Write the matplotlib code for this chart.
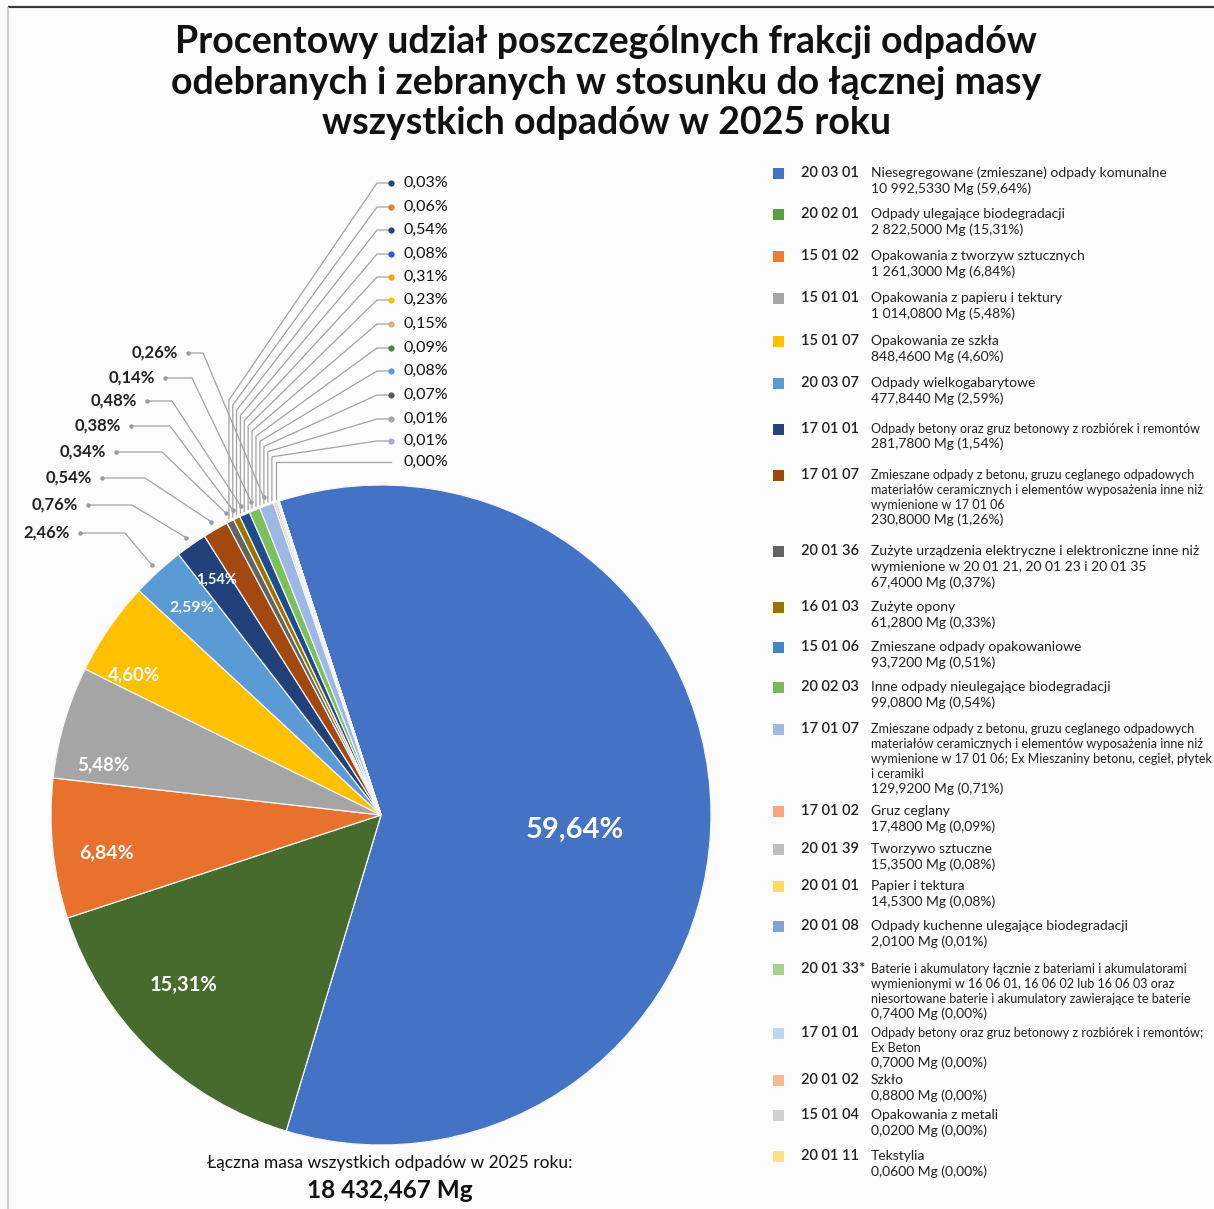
import numpy as np
import matplotlib
matplotlib.use('Agg')
import matplotlib.pyplot as plt
from matplotlib.patches import Rectangle

# ---------------- data ----------------
codes = ['20 03 01', '20 02 01', '15 01 02', '15 01 01', '15 01 07', '20 03 07',
         '17 01 01', '17 01 07', '20 01 36', '16 01 03', '15 01 06', '20 02 03',
         '17 01 07', '17 01 02', '20 01 39', '20 01 01', '20 01 08', '20 01 33*',
         '17 01 01', '20 01 02', '15 01 04', '20 01 11']
names = [
    'Niesegregowane (zmieszane) odpady komunalne',
    'Odpady ulegające biodegradacji',
    'Opakowania z tworzyw sztucznych',
    'Opakowania z papieru i tektury',
    'Opakowania ze szkła',
    'Odpady wielkogabarytowe',
    'Odpady betony oraz gruz betonowy z rozbiórek i remontów',
    'Zmieszane odpady z betonu, gruzu ceglanego odpadowych\nmateriałów ceramicznych i elementów wyposażenia inne niż\nwymienione w 17 01 06',
    'Zużyte urządzenia elektryczne i elektroniczne inne niż\nwymienione w 20 01 21, 20 01 23 i 20 01 35',
    'Zużyte opony',
    'Zmieszane odpady opakowaniowe',
    'Inne odpady nieulegające biodegradacji',
    'Zmieszane odpady z betonu, gruzu ceglanego odpadowych\nmateriałów ceramicznych i elementów wyposażenia inne niż\nwymienione w 17 01 06; Ex Mieszaniny betonu, cegieł, płytek\ni ceramiki',
    'Gruz ceglany',
    'Tworzywo sztuczne',
    'Papier i tektura',
    'Odpady kuchenne ulegające biodegradacji',
    'Baterie i akumulatory łącznie z bateriami i akumulatorami\nwymienionymi w 16 06 01, 16 06 02 lub 16 06 03 oraz\nniesortowane baterie i akumulatory zawierające te baterie',
    'Odpady betony oraz gruz betonowy z rozbiórek i remontów;\nEx Beton',
    'Szkło',
    'Opakowania z metali',
    'Tekstylia',
]
masses = [10992.5330, 2822.5000, 1261.3000, 1014.0800, 848.4600, 477.8440,
          281.7800, 230.8000, 67.4000, 61.2800, 93.7200, 99.0800,
          129.9200, 17.4800, 15.3500, 14.5300, 2.0100, 0.7400,
          0.7000, 0.8800, 0.0200, 0.0600]
shares = [59.64, 15.31, 6.84, 5.48, 4.60, 2.59, 1.54, 1.26, 0.37, 0.33, 0.51,
          0.54, 0.71, 0.09, 0.08, 0.08, 0.01, 0.00, 0.00, 0.00, 0.00, 0.00]
inner_labels = ['59,64%', '15,31%', '6,84%', '5,48%', '4,60%', '2,59%', '1,54%']
left_labels = ['2,46%', '0,76%', '0,54%', '0,34%', '0,38%', '0,48%', '0,14%', '0,26%']
top_labels = ['0,03%', '0,06%', '0,54%', '0,08%', '0,31%', '0,23%', '0,15%',
              '0,09%', '0,08%', '0,07%', '0,01%', '0,01%', '0,00%']

title_lines = ['Procentowy udział poszczególnych frakcji odpadów',
               'odebranych i zebranych w stosunku do łącznej masy',
               'wszystkich odpadów w 2025 roku']
total_caption = 'Łączna masa wszystkich odpadów w 2025 roku:'

# ---------------- styles ----------------
pie_colors = ['#4472C4', '#466B2D', '#E8712D', '#A5A5A5', '#FFC000', '#5B9BD5',
              '#22417A', '#A3480F', '#636363', '#9A7400', '#1F4C8A', '#7CC05A',
              '#9DB8E6', '#F5A54A', '#5B8FD0', '#FFE6A8', '#43682B', '#F4B183',
              '#FFD966', '#FFE699', '#DBDBDB', '#C9C9C9']
legend_colors = ['#4472C4', '#5B9F3E', '#ED7D31', '#A5A5A5', '#FFC000', '#5B9BD5',
                 '#264478', '#9E480E', '#636363', '#997300', '#3F86C8', '#78B85A',
                 '#A4B8E6', '#F7A57A', '#BFBFBF', '#FFD966', '#7FA2D8', '#A9D18E',
                 '#BDD7EE', '#F8B98F', '#D0D0D0', '#FFE08A']
top_dot_colors = ['#264478', '#ED7D31', '#264478', '#3355CC', '#F2A900', '#FFC000',
                  '#D9B07A', '#548235', '#5B9BD5', '#595959', '#A5A5A5', '#A8B0CC', None]

plt.rcParams['font.family'] = ['Lato', 'DejaVu Sans']

W, H = 1214, 1209
BG = '#FCFCFC'
fig = plt.figure(figsize=(W / 100, H / 100), dpi=100)
fig.patch.set_facecolor(BG)
ax = fig.add_axes([0, 0, 1, 1])
ax.set_facecolor(BG)


def Y(p):
    return H - p


CX, CY, R = 381, Y(815), 330
START = 108

wedges, _ = ax.pie(masses, colors=pie_colors, startangle=START, counterclock=False,
                   center=(CX, CY), radius=R,
                   wedgeprops=dict(edgecolor='#F4F4F4', linewidth=0.9))
ax.set_xlim(0, W)
ax.set_ylim(0, H)
ax.set_aspect('equal')
ax.axis('off')


def mid(w):
    return 0.5 * (w.theta1 + w.theta2)


def polar(a, r):
    t = np.deg2rad(a)
    return CX + r * np.cos(t), CY + r * np.sin(t)


# inner labels
inner_r = [0.59, 0.79, 0.84, 0.855, 0.86, 0.85, 0.87]
inner_shift = [-5, -5, 2, 6, 5, 0, 0]
inner_fs = [21, 14.5, 14, 13.5, 13.5, 11.5, 10.5]
for i, lab in enumerate(inner_labels):
    x, y = polar(mid(wedges[i]) + inner_shift[i], inner_r[i] * R)
    ax.text(x, y, lab, color='white', fontsize=inner_fs[i], fontweight='bold',
            ha='center', va='center')

LINE_C = '#A3A3A3'

# left labels with leader lines (slices 6..13)
left_y = [533, 505, 478, 452, 426, 401, 378, 353]
left_right = [70, 78, 92, 106, 121, 137, 155, 178]
left_elbow = [45, 44, 43, 46, 39, 25, 27, 15]
for k, lab in enumerate(left_labels):
    w = wedges[5 + k]
    ax_, ay_ = polar(mid(w), R + 9)
    ty = Y(left_y[k])
    ax.text(left_right[k], ty, lab, ha='right', va='center', fontsize=12,
            fontweight='bold', color='#222222')
    dx = left_right[k] + 10
    ex = dx + left_elbow[k]
    ax.plot([dx, ex, ax_], [ty, ty, ay_], color=LINE_C, lw=0.9)
    ax.plot([dx, ax_], [ty, ay_], 'o', color='#9A9A9A', ms=3.2, mec='none')

# top labels with leader lines
a_from = mid(wedges[8])
a_to = wedges[0].theta2 - 360 + 0.4
top_anchor = np.linspace(a_from, a_to, len(top_labels))
top_y = [183, 207, 230, 254, 277, 300, 324, 348, 371, 395, 419, 441, 462]
bend_y = np.linspace(400, 462, len(top_labels))
for k, lab in enumerate(top_labels):
    ty = Y(top_y[k])
    ax.text(403, ty, lab, ha='left', va='center', fontsize=11.5, color='#111111')
    px_, py_ = polar(top_anchor[k], R + 3)
    ax.plot([391, 377, px_, px_], [ty, ty, Y(bend_y[k]), py_], color=LINE_C, lw=0.9)
    if top_dot_colors[k] is not None:
        ax.plot([391], [ty], 'o', color=top_dot_colors[k], ms=4.5, mec='none')

# legend
leg_y = [173, 214, 256, 298, 341, 383, 429, 475, 551, 607, 647, 687, 729, 811,
         849, 886, 926, 969, 1033, 1080, 1115, 1156]
small_desc = {6, 7, 12, 17, 18}


def fmt_mass(m):
    return f'{m:,.4f}'.replace(',', ' ').replace('.', ',')


for i in range(len(codes)):
    y0 = leg_y[i]
    ax.add_patch(Rectangle((773, Y(y0) - 5.5), 11, 11, color=legend_colors[i], lw=0))
    ax.text(801, Y(y0), codes[i], ha='left', va='center', fontsize=10.5,
            fontweight=600, color='#222222')
    lines = names[i].split('\n')
    small = i in small_desc
    lh = 15 if small else 16
    for j, ln in enumerate(lines):
        ax.text(871, Y(y0 + j * lh), ln, ha='left', va='center',
                fontsize=9 if small else 10, color='#222222')
    mline = f'{fmt_mass(masses[i])} Mg ({shares[i]:.2f}%)'.replace('.', ',')
    ax.text(871, Y(y0 + len(lines) * lh), mline, ha='left', va='center',
            fontsize=10, color='#222222')

# title
for y, t in zip([42, 83, 123], title_lines):
    ax.text(606, Y(y), t, ha='center', va='center', fontsize=27,
            fontweight='bold', color='#111111')

# total
total = sum(masses)
total_txt = f'{total:,.3f}'.replace(',', ' ').replace('.', ',') + ' Mg'
ax.text(390, Y(1163), total_caption, ha='center', va='center', fontsize=12.5,
        color='#111111')
ax.text(390, Y(1191), total_txt, ha='center', va='center', fontsize=17.5,
        fontweight='bold', color='#111111')

# frame
ax.plot([8, W], [Y(7), Y(7)], color='#3A3A3A', lw=1.6, solid_capstyle='butt')
ax.plot([8, 8], [Y(7), 0], color='#C8C8C8', lw=1.2, solid_capstyle='butt')

fig.savefig('out.png', dpi=100, facecolor=BG)
